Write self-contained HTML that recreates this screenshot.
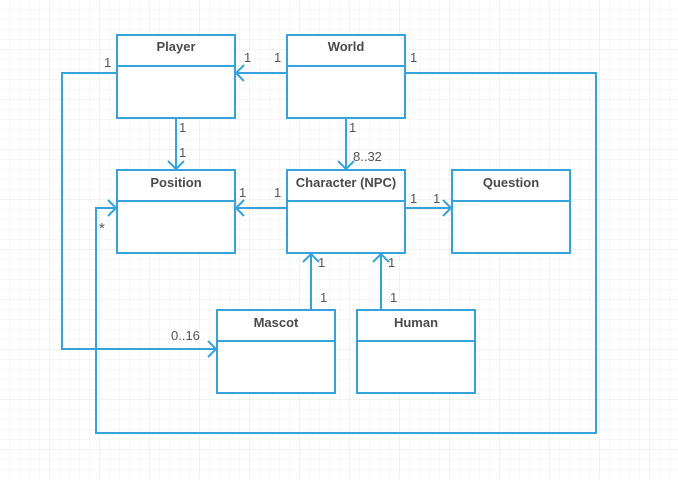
<!DOCTYPE html>
<html><head><style>
body{margin:0;width:678px;height:479px;overflow:hidden;background:#fff;}
svg text{font-family:"Liberation Sans",sans-serif;fill:#555;font-size:13px;}
.t{font-weight:bold;text-anchor:middle;font-size:13px;fill:#4a4a4a}
</style></head><body>
<svg width="678" height="479" xmlns="http://www.w3.org/2000/svg">
<defs>
<pattern id="g" width="10" height="10" patternUnits="userSpaceOnUse"><path d="M10 0V10H0" fill="none" stroke="#efefef" stroke-width="1"/></pattern>
<pattern id="G" width="50" height="50" patternUnits="userSpaceOnUse"><rect width="50" height="50" fill="url(#g)"/><path d="M50 0V50H0" fill="none" stroke="#e4e4e4" stroke-width="1"/></pattern>
</defs>
<rect width="678" height="479" fill="url(#G)"/>
<g fill="#fff" stroke="#35a2dc" stroke-width="2">
<rect x="117" y="35" width="118" height="83"/><line x1="117" y1="66" x2="235" y2="66"/>
<rect x="287" y="35" width="118" height="83"/><line x1="287" y1="66" x2="405" y2="66"/>
<rect x="117" y="170" width="118" height="83"/><line x1="117" y1="201" x2="235" y2="201"/>
<rect x="287" y="170" width="118" height="83"/><line x1="287" y1="201" x2="405" y2="201"/>
<rect x="452" y="170" width="118" height="83"/><line x1="452" y1="201" x2="570" y2="201"/>
<rect x="217" y="310" width="118" height="83"/><line x1="217" y1="341" x2="335" y2="341"/>
<rect x="357" y="310" width="118" height="83"/><line x1="357" y1="341" x2="475" y2="341"/>
</g>
<g fill="none" stroke="#35a2dc" stroke-width="2">
<path d="M287 73H236M244 65l-8 8 8 8"/>
<path d="M176 118V169M168 161l8 8 8-8"/>
<path d="M346 118V169M338 161l8 8 8-8"/>
<path d="M287 208H236M244 200l-8 8 8 8"/>
<path d="M405 208H451M443 200l8 8-8 8"/>
<path d="M311 310V254M303 262l8-8 8 8"/>
<path d="M381 310V254M373 262l8-8 8 8"/>
<path d="M117 73H62V349H216M208 341l8 8-8 8"/>
<path d="M405 73H596V433H96V208H116M108 200l8 8-8 8"/>
</g>
<text class="t" x="176" y="51">Player</text>
<text class="t" x="346" y="51">World</text>
<text class="t" x="176" y="187">Position</text>
<text class="t" x="346" y="187">Character (NPC)</text>
<text class="t" x="511" y="187">Question</text>
<text class="t" x="276" y="327">Mascot</text>
<text class="t" x="416" y="327">Human</text>
<text x="104" y="67">1</text>
<text x="244" y="62">1</text>
<text x="274" y="62">1</text>
<text x="410" y="62">1</text>
<text x="179" y="132">1</text>
<text x="179" y="157">1</text>
<text x="349" y="132">1</text>
<text x="353" y="161">8..32</text>
<text x="239" y="197">1</text>
<text x="274" y="197">1</text>
<text x="410" y="203">1</text>
<text x="433" y="203">1</text>
<text x="99" y="233" style="font-size:15px">*</text>
<text x="318" y="267">1</text>
<text x="388" y="267">1</text>
<text x="320" y="302">1</text>
<text x="390" y="302">1</text>
<text x="171" y="340">0..16</text>
</svg>
</body></html>
